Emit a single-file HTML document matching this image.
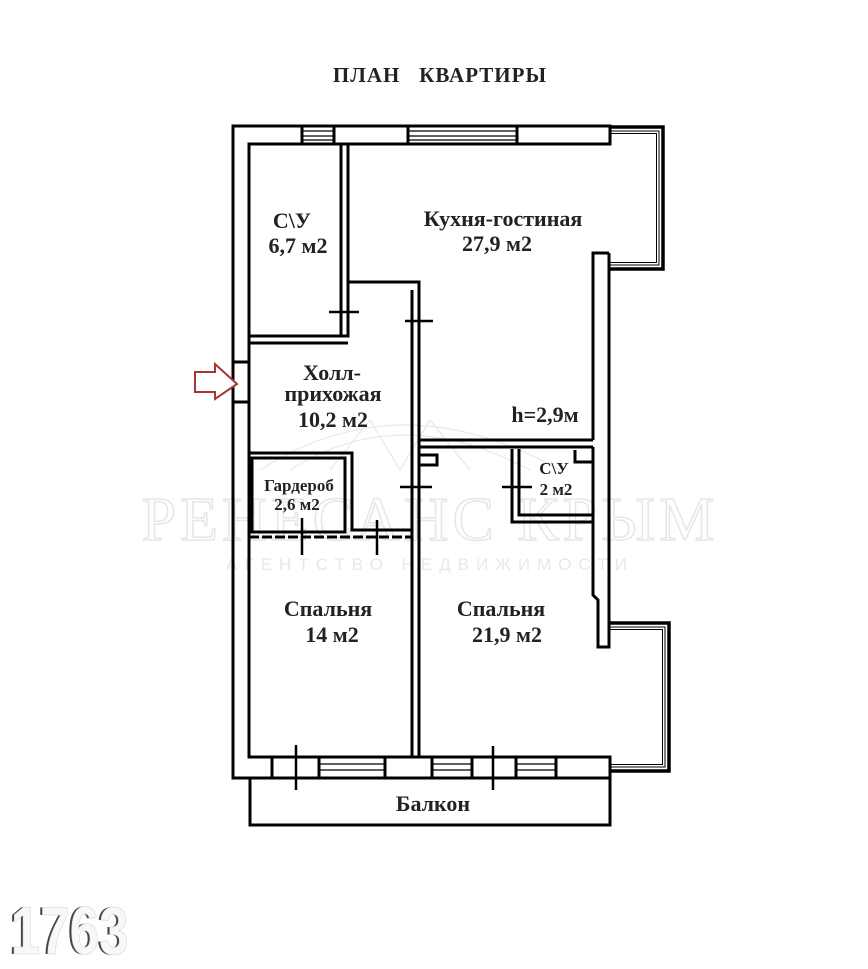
<!DOCTYPE html>
<html><head><meta charset="utf-8"><style>
html,body{margin:0;padding:0;background:#fff;width:868px;height:969px;overflow:hidden}
svg{display:block}
.t{font-family:"Liberation Serif",serif;font-weight:bold;fill:#222}
</style></head><body>
<svg width="868" height="969" viewBox="0 0 868 969" xmlns="http://www.w3.org/2000/svg">
<!-- watermark -->
<text x="430" y="540" text-anchor="middle" font-family="Liberation Serif,serif" font-size="62" fill="none" stroke="#e6e6e6" stroke-width="1.5" letter-spacing="4">РЕНЕСАНС КРЫМ</text>
<text x="430" y="570" text-anchor="middle" font-family="Liberation Sans,sans-serif" font-size="17" fill="#e8e8e8" letter-spacing="7">АГЕНТСТВО НЕДВИЖИМОСТИ</text>
<g fill="none" stroke="#e8e8e8" stroke-width="1.2">
<path d="M260 470 Q400 380 560 470"/><path d="M290 470 Q400 400 530 470"/>
<path d="M330 470 L370 420 L400 470 L430 420 L470 470"/>
</g>

<text x="440" y="82" text-anchor="middle" class="t" font-size="21" fill="#000" letter-spacing="1">ПЛАН&#160;&#160;&#160;КВАРТИРЫ</text>

<!-- loggias -->
<g stroke="#000" fill="none">
<path d="M609 127 H663 V269 H609" stroke-width="3.5"/>
<path d="M609 131 H659 V265 H609" stroke-width="1"/>
<path d="M609 133.5 H656.5 V262.5 H609" stroke-width="1"/>
<path d="M609 623 H669 V771 H609" stroke-width="3.5"/>
<path d="M609 627 H665 V767 H609" stroke-width="1"/>
<path d="M609 629.5 H662.5 V764.5 H609" stroke-width="1"/>
</g>
<g stroke="#000" stroke-width="3" fill="none">
<path d="M233 126 V778 H610 V757 H249 V144 H610 V126 Z"/>
<!-- balcony -->
<rect x="250" y="778" width="360" height="47"/>
<!-- right wall -->
<path d="M609 253 V647 H598 V600 L593 595 V447"/>
<path d="M593 440 V253 H609"/>
<!-- windows top -->
<path d="M302 127 V144 M334 127 V144 M408 127 V144 M517 127 V144"/>
<!-- entry -->
<path d="M233 362 H249 M233 402 H249"/>
<!-- bottom verticals -->
<path d="M272 757 V778 M319 757 V778 M385 757 V778 M432 757 V778 M472 757 V778 M516 757 V778 M556 757 V778"/>
<!-- СУ1 -->
<path d="M249 336 H348 V144"/>
<path d="M249 343 H348 M341 144 V336"/>
<path d="M348 290 V282 H419 V757"/>
<path d="M412 290 V757"/>
<!-- kitchen bottom -->
<path d="M419 440 H593 M419 447 H593"/>
<!-- bedroom2 nooks -->
<path d="M419 455 H437 V465 H419"/>
<path d="M575 450 V462 H593"/>
<!-- СУ2 -->
<path d="M512 449 V522 H594 M519 449 V515 H593"/>
<!-- wardrobe -->
<path d="M249 453 H352 V530 H412"/>
<rect x="252" y="458" width="93" height="74"/>
<path d="M249 537 H412" stroke-dasharray="10 3"/>
</g>
<g stroke="#000" stroke-width="1.2" fill="none">
<path d="M302 131 H334 M302 136 H334 M302 140 H334"/>
<path d="M408 131 H517 M408 136 H517 M408 140 H517"/>
<path d="M319 764 H385 M319 770 H385 M432 764 H472 M432 770 H472 M516 764 H556 M516 770 H556"/>
</g>
<!-- door marks -->
<g stroke="#000" stroke-width="2.5">
<path d="M329 312 H359 M405 321 H433 M400 487 H432 M502 487 H532 M302 518 V555 M377 520 V555 M296 745 V790 M493 746 V790"/>
</g>
<!-- arrow -->
<path d="M195 372 H215 V364 L237 384 L215 399 V392 H195 Z" fill="#fff" stroke="#a33" stroke-width="2"/>
<!-- labels -->
<g class="t" text-anchor="middle">
<text x="292" y="228" font-size="22">С\У</text>
<text x="298" y="253" font-size="22">6,7 м2</text>
<text x="503" y="226" font-size="22">Кухня-гостиная</text>
<text x="497" y="251" font-size="22">27,9 м2</text>
<text x="332" y="380" font-size="22">Холл-</text>
<text x="333" y="401" font-size="22">прихожая</text>
<text x="333" y="427" font-size="22">10,2 м2</text>
<text x="545" y="422" font-size="22">h=2,9м</text>
<text x="299" y="491" font-size="17">Гардероб</text>
<text x="297" y="510" font-size="17">2,6 м2</text>
<text x="554" y="474" font-size="17">С\У</text>
<text x="556" y="495" font-size="17">2 м2</text>
<text x="328" y="616" font-size="22">Спальня</text>
<text x="332" y="642" font-size="22">14 м2</text>
<text x="501" y="616" font-size="22">Спальня</text>
<text x="507" y="642" font-size="22">21,9 м2</text>
<text x="433" y="811" font-size="22">Балкон</text>
</g>
<!-- 1763 -->
<g transform="translate(10,954) scale(0.78,1)" font-family="Liberation Sans Narrow,Liberation Sans,sans-serif" font-weight="bold" font-size="68">
<text x="-2" y="0" fill="#444">1763</text>
<text x="1" y="0" fill="#f8f8f8" stroke="#ddd" stroke-width="0.8">1763</text>
</g>
</svg>
</body></html>
